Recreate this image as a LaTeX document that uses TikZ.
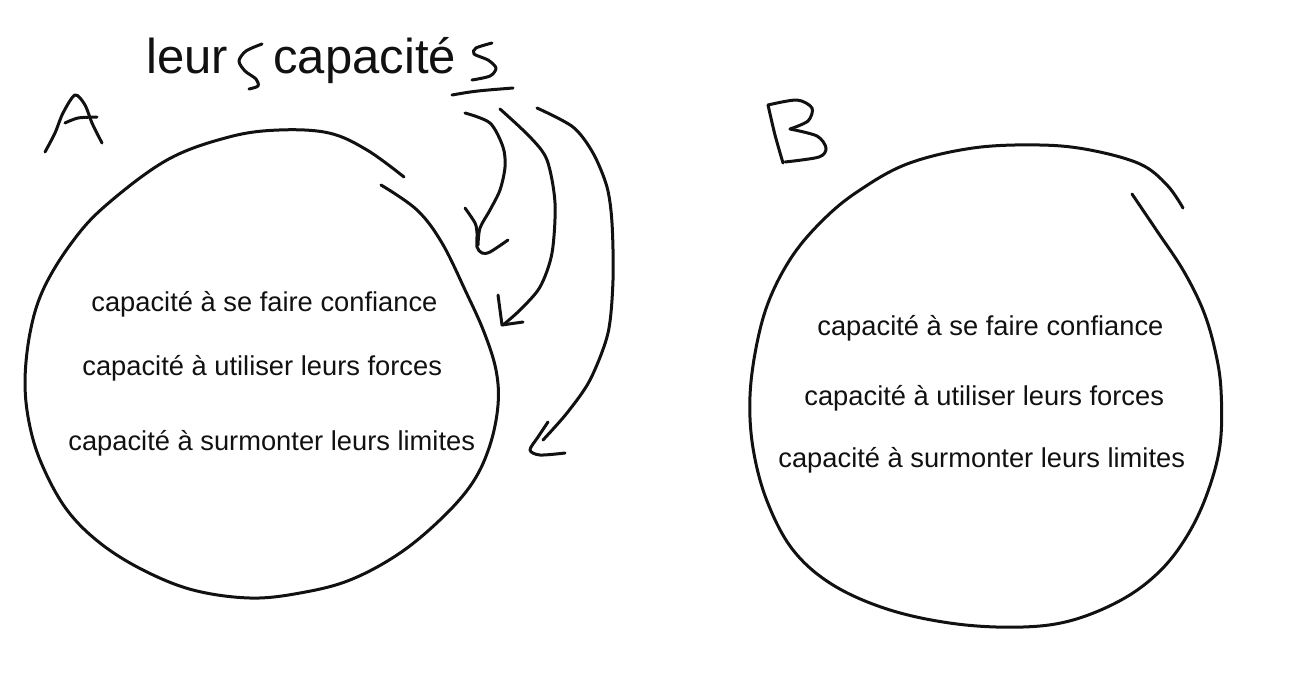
\documentclass[tikz,border=0pt]{standalone}
\usepackage{fontspec}
\setmainfont{Liberation Sans}
\usepackage{tikz}
\definecolor{inkBlack}{RGB}{17, 17, 17}
\usetikzlibrary{positioning}

\tikzset{
    pen/.style={draw=inkBlack, line width=1.5pt, line cap=round, line join=round},
    ability/.style={anchor=base west, inner sep=0pt, text=inkBlack, font=\fontsize{13.65}{16}\selectfont},
    heading/.style={anchor=base west, inner sep=0pt, text=inkBlack, font=\fontsize{24.5}{29}\selectfont}
}

\begin{document}
\begin{tikzpicture}[x=0.5pt, y=-0.5pt]
    \useasboundingbox (0,0) rectangle (1315,691);

    % title
    \node[heading] (leur) at (146,73) {leur};
    \node[heading] (capacite) at (273,73) {capacité};
    \draw[pen] plot[smooth] coordinates {(262,44) (246,51) (239,61) (245,71) (256,79) (258,86) (249,89)};
    \draw[pen] plot[smooth] coordinates {(492,43) (476,48) (474,54) (488,60) (496,68) (490,76) (472,80)};
    \draw[pen] (452,95) .. controls (475,91) .. (513,88);

    % arrows
    \draw[pen] plot[smooth] coordinates {(465,113) (490,123) (503,147) (505,167) (500,190) (490,210) (480,228) (478,245)};
    \draw[pen] plot[smooth] coordinates {(465,208) (475,223) (477,233) (477,247) (482,253) (490,252) (508,240)};
    \draw[pen] plot[smooth] coordinates {(500,109) (530,137) (547,160) (555,203) (552,253) (540,287) (520,310) (503,325)};
    \draw[pen] (498,295) -- (500,310) -- (502,325) -- (523,322);
    \draw[pen] plot[smooth] coordinates {(537,108) (573,127) (593,153) (607,187) (612,223) (613,280) (608,333) (590,380) (567,413) (543,440)};
    \draw[pen] plot[smooth] coordinates {(548,422) (538,437) (530,450) (540,455) (565,453)};

    % A
    \draw[pen] plot[smooth] coordinates {(45,152) (55,133) (63,113) (75,95) (85,105) (92,123) (102,143)};
    \draw[pen] plot[smooth] coordinates {(65,123) (78,118) (97,117)};
    \draw[pen] plot[smooth, tension=0.6] coordinates {(381,185) (417,210) (442,243) (466,292) (484,332) (496,370) (498,405) (490,445) (473,482) (443,517) (400,553) (350,580) (300,593) (250,598) (193,590) (143,570) (100,543) (67,510) (43,467) (30,427) (25,383) (30,333) (43,290) (70,245) (104,207) (167,160) (229,137) (279,130) (329,133) (367,150) (404,177)};
    \node[ability] (confianceA) at (91,311) {capacité à se faire confiance};
    \node[ability] (forcesA) at (82,375) {capacité à utiliser leurs forces};
    \node[ability] (limitesA) at (68,450) {capacité à surmonter leurs limites};

    % B
    \draw[pen] plot[smooth] coordinates {(768,105) (775,135) (783,163)};
    \draw[pen] plot[smooth] coordinates {(768,105) (797,100) (812,108) (808,121) (790,129)};
    \draw[pen] plot[smooth] coordinates {(790,129) (817,136) (826,148) (819,157) (785,162)};
    \draw[pen] plot[smooth, tension=0.6] coordinates {(1132,194) (1157,231) (1183,270) (1203,310) (1215,350) (1221,390) (1220,445) (1207,494) (1187,536) (1160,571) (1123,599) (1073,620) (1023,627) (957,624) (890,610) (833,585) (793,550) (767,501) (753,448) (750,396) (757,343) (770,298) (793,255) (823,220) (857,192) (907,164) (973,148) (1040,145) (1090,150) (1140,164) (1167,185) (1183,208)};
    \node[ability] (confianceB) at (817,335) {capacité à se faire confiance};
    \node[ability] (forcesB) at (804,405) {capacité à utiliser leurs forces};
    \node[ability] (limitesB) at (778,467) {capacité à surmonter leurs limites};
\end{tikzpicture}
\end{document}
